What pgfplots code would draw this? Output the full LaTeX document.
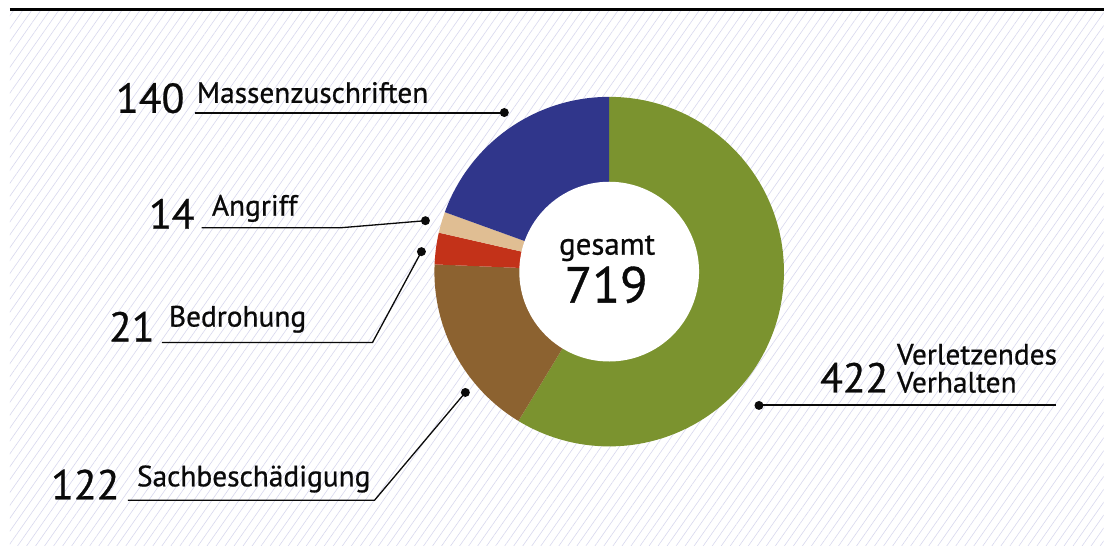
\documentclass[border=0pt]{standalone}
\usepackage{pgfplots}
\pgfplotsset{compat=1.18}
\usepackage{pgfplotstable}
\usepackage{fontspec}
\setmainfont{PT Sans}
\newfontfamily\labfont{PT Sans}[FakeBold=0.7]
\usetikzlibrary{patterns.meta}
\definecolor{cgreen}{HTML}{7B932F}
\definecolor{cbrown}{HTML}{8C6230}
\definecolor{cred}{HTML}{C33219}
\definecolor{ctan}{HTML}{E0BE93}
\definecolor{cblue}{HTML}{30368B}
\definecolor{hatch}{HTML}{D8D8EE}
\definecolor{txt}{HTML}{0A0A0A}
% values (clockwise from 12 o'clock)
\pgfplotstableread{
label value
Verletzendes 422
Sachbeschaedigung 122
Bedrohung 21
Angriff 14
Massenzuschriften 140
}\piedata
\begin{document}
\begin{tikzpicture}
\pgfplotstablegetelem{0}{value}\of\piedata \edef\vA{\pgfplotsretval}
\pgfplotstablegetelem{1}{value}\of\piedata \edef\vB{\pgfplotsretval}
\pgfplotstablegetelem{2}{value}\of\piedata \edef\vC{\pgfplotsretval}
\pgfplotstablegetelem{3}{value}\of\piedata \edef\vD{\pgfplotsretval}
\pgfplotstablegetelem{4}{value}\of\piedata \edef\vE{\pgfplotsretval}
\pgfmathsetmacro\tot{\vA+\vB+\vC+\vD+\vE}
\pgfmathsetmacro\aO{90}
\pgfmathsetmacro\aA{\aO-\vA/\tot*360}
\pgfmathsetmacro\aB{\aA-\vB/\tot*360}
\pgfmathsetmacro\aC{\aB-\vC/\tot*360}
\pgfmathsetmacro\aD{\aC-\vD/\tot*360}
\pgfmathsetmacro\aE{\aD-\vE/\tot*360}
\begin{axis}[x=1bp, y=1bp, xmin=0, xmax=1105, ymin=0, ymax=546,
  hide axis, clip=false]
% background
\fill[white] (axis cs:0,0) rectangle (axis cs:1105,546);
\fill[pattern={Lines[angle=55,distance=7.4bp,line width=0.6bp]}, pattern color=hatch]
  (axis cs:10,0) rectangle (axis cs:1105,535);
\draw[line width=3bp, black] (axis cs:10,536.5) -- (axis cs:1105,536.5);
% donut
\fill[cgreen] (axis cs:610,274) -- +(\aO:175bp) arc[start angle=\aO, end angle=\aA, radius=175bp] -- cycle;
\fill[cbrown] (axis cs:610,274) -- +(\aA:175bp) arc[start angle=\aA, end angle=\aB, radius=175bp] -- cycle;
\fill[cred] (axis cs:610,274) -- +(\aB:175bp) arc[start angle=\aB, end angle=\aC, radius=175bp] -- cycle;
\fill[ctan] (axis cs:610,274) -- +(\aC:175bp) arc[start angle=\aC, end angle=\aD, radius=175bp] -- cycle;
\fill[cblue] (axis cs:610,274) -- +(\aD:175bp) arc[start angle=\aD, end angle=\aE, radius=175bp] -- cycle;
\fill[white] (axis cs:610,274) circle[radius=90bp];
\node[anchor=base, font=\labfont\fontsize{31}{34}\selectfont, text=txt, inner sep=0pt] at (axis cs:608,291) {gesamt};
\node[anchor=base, font=\labfont\fontsize{51}{55}\selectfont, text=txt, inner sep=0pt] at (axis cs:607,243) {719};
% leaders
\draw[line width=2bp, txt] (axis cs:195,433.3) -- (axis cs:505,433.3);
\fill[txt] (axis cs:505,433.3) circle[radius=4.5bp];
\draw[line width=1.3bp, txt] (axis cs:202,318) -- (axis cs:342,318) -- (axis cs:426,325);
\fill[txt] (axis cs:426,325) circle[radius=4.5bp];
\draw[line width=1.3bp, txt] (axis cs:162,203) -- (axis cs:373,203) -- (axis cs:422,294);
\fill[txt] (axis cs:422,294) circle[radius=4.5bp];
\draw[line width=1.3bp, txt] (axis cs:128,45) -- (axis cs:375,45) -- (axis cs:466,153);
\fill[txt] (axis cs:466,153) circle[radius=4.5bp];
\draw[line width=2bp, txt] (axis cs:760,140) -- (axis cs:1057,140);
\fill[txt] (axis cs:760,140) circle[radius=4.5bp];
% labels
\tikzset{num/.style={anchor=base west, inner sep=0pt, text=txt, font=\labfont\fontsize{42}{46}\selectfont},
         lab/.style={anchor=base west, inner sep=0pt, text=txt, font=\labfont\fontsize{29.5}{31}\selectfont}}
\node[num] at (axis cs:116,433) {140};
\node[lab] at (axis cs:197,443) {Massenzuschriften};
\node[num] at (axis cs:149,317) {14};
\node[lab] at (axis cs:212,330) {Angriff};
\node[num] at (axis cs:109,204) {21};
\node[lab] at (axis cs:169,219) {Bedrohung};
\node[num] at (axis cs:51,46) {122};
\node[lab] at (axis cs:137,59) {Sachbeschädigung};
\node[num] at (axis cs:821,153) {422};
\node[lab] at (axis cs:898,181) {Verletzendes};
\node[lab] at (axis cs:898,153) {Verhalten};
\end{axis}
\end{tikzpicture}
\end{document}
